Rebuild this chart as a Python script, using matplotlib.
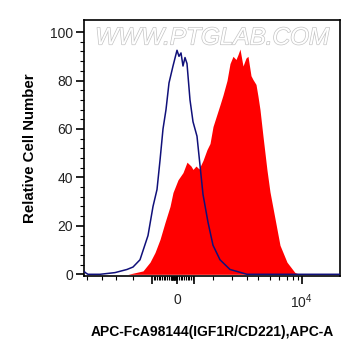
import matplotlib
matplotlib.use("Agg")
import matplotlib.pyplot as plt
import matplotlib.patheffects as pe
import numpy as np

plt.rcParams['font.family'] = ['Liberation Sans', 'DejaVu Sans']
plt.rcParams['mathtext.default'] = 'regular'

# display channels (0..256) of the biexponential axis
blue_x = [0, 2, 4, 16, 31, 43, 49, 56, 64, 69, 73, 76, 79, 82, 85, 89, 93, 95,
          97, 99, 101, 103, 106, 109, 113, 116, 119, 124, 129, 136, 146, 163, 256]
blue_y = [1.2, 0.5, 0, 0, 0.7, 2, 3, 6, 16, 28, 35, 47, 60, 68, 79, 86, 92.5, 90,
          91.4, 86, 89.5, 87, 72, 63, 57, 45, 33, 21.5, 12, 6, 2, 0, 0]

red_x = [44, 59, 66, 71, 76, 81, 86, 89, 94, 99, 103, 107, 109, 112, 115, 119,
         123, 126, 129, 136, 139, 143, 146, 149, 152, 154, 156, 159, 162, 164,
         167, 169, 172, 174, 176, 179, 183, 186, 191, 196, 203, 211, 216]
red_y = [0, 1.4, 5, 9, 14.4, 21.4, 28, 33.8, 39, 42, 46.3, 44.7, 43.3, 44.7,
         43.5, 47, 51.5, 54, 61, 70, 74, 80, 87, 90, 88.7, 90.7, 93, 86, 89.3,
         90, 82, 80.4, 78.4, 73.5, 68, 57, 43, 34, 23, 12, 5, 0.7, 0]

x_major = [67.7, 93, 110.3, 217.7]
x_major_labels = ['', '0', '', '$10^4$']
x_minor = [3.3, 17.7, 31.7, 49.3, 129.3, 147.7, 162.7, 174.3, 186, 195.3,
           202.7, 209.3, 214.3]
x_minor += list(np.arange(69.5, 109.5, 1.7))
x_minor += list(np.arange(87, 91.5, 0.5))

fig = plt.figure(figsize=(3.61, 3.56), dpi=100)
ax = fig.add_axes([84 / 361, 80 / 356, 256 / 361, 256 / 356])

ax.fill_between(red_x, 0, red_y, color='#ff0000', lw=0, zorder=2)
ax.plot(blue_x, blue_y, color='#10107a', lw=1.1, zorder=3)

ax.set_xlim(0, 256)
ax.set_ylim(-0.7, 105)

ax.set_yticks([0, 20, 40, 60, 80, 100])
ax.set_yticks(np.arange(0, 104, 4), minor=True)
ax.set_xticks(x_major)
ax.set_xticklabels(x_major_labels)
ax.set_xticks(x_minor, minor=True)

ax.tick_params(axis='both', which='major', direction='out', length=6, width=1.2,
               labelsize=10, colors='black')
ax.tick_params(axis='both', which='minor', direction='out', length=3, width=0.8)
ax.tick_params(axis='x', which='major', pad=6)
ax.tick_params(axis='y', which='major', pad=2)
for lab in ax.get_yticklabels() + ax.get_xticklabels():
    lab.set_color('#222222')

for s in ax.spines.values():
    s.set_linewidth(1.2)

ax.set_ylabel('Relative Cell Number', fontsize=10.8, fontweight='bold', labelpad=9)
ax.set_xlabel('APC-FcA98144(IGF1R/CD221),APC-A', fontsize=10,
              fontweight='bold', labelpad=10)

ax.text(0.5, 0.975, 'WWW.PTGLAB.COM', transform=ax.transAxes, ha='center',
        va='top', fontsize=17.5, color='white', style='italic', zorder=1,
        path_effects=[pe.withStroke(linewidth=1.0, foreground='#c4c4c4')])

fig.savefig('out.png', dpi=100)
